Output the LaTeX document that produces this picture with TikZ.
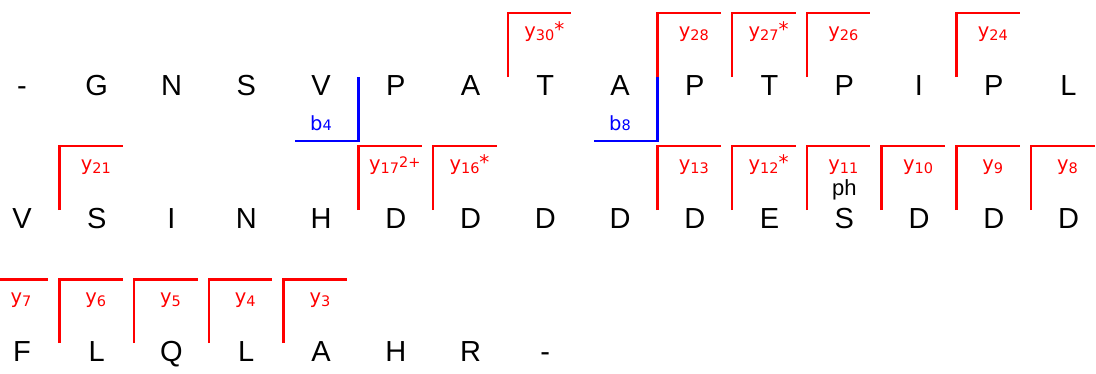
\documentclass[tikz,border=0pt]{standalone}
\usepackage{fontspec}
\setmainfont{Liberation Sans}
\newfontfamily\ionfont{DejaVu Sans}
\usetikzlibrary{calc}

\newcommand{\ionidx}[2]{\raisebox{-3.5pt}{\fontsize{14.5}{14.5}\selectfont #1}\raisebox{2.5pt}{\fontsize{14.5}{14.5}\selectfont #2}}
\newcommand{\ionstar}{\raisebox{-1.5pt}{\fontsize{20}{20}\selectfont *}}

\begin{document}
\begin{tikzpicture}[
    x=1pt, y=-1pt,
    residue/.style={anchor=base, inner sep=0pt, font=\fontsize{29}{29}\selectfont},
    ylab/.style={anchor=base, inner sep=0pt, text=red, font=\ionfont\fontsize{19.5}{19.5}\selectfont},
    blab/.style={anchor=base, inner sep=0pt, text=blue, font=\ionfont\fontsize{19.5}{19.5}\selectfont},
    ycut/.style={draw=red, line width=2.6pt},
    bcut/.style={draw=blue, line width=2.6pt}
]
\useasboundingbox (0,0) rectangle (1096,373);
\clip (0,0) rectangle (1096,373);

% Sequence rows
\foreach \res [count=\i from 0] in {-,G,N,S,V,P,A,T,A,P,T,P,I,P,L}
    \node[residue] (r1c\i) at (22+74.75*\i, 95.5) {\res};
\foreach \res [count=\i from 0] in {V,S,I,N,H,D,D,D,D,D,E,S,D,D,D}
    \node[residue] (r2c\i) at (22+74.75*\i, 228.6) {\res};
\foreach \res [count=\i from 0] in {F,L,Q,L,A,H,R,-}
    \node[residue] (r3c\i) at (22+74.75*\i, 361.7) {\res};

% y ions (red, above the sequence)
\foreach \r/\i/\n/\s in {1/7/30/\ionstar, 1/9/28/{}, 1/10/27/\ionstar, 1/11/26/{}, 1/13/24/{},
        2/1/21/{}, 2/5/17/2+, 2/6/16/\ionstar, 2/9/13/{}, 2/10/12/\ionstar, 2/11/11/{}, 2/12/10/{}, 2/13/9/{}, 2/14/8/{},
        3/0/7/{}, 3/1/6/{}, 3/2/5/{}, 3/3/4/{}, 3/4/3/{}} {
    \draw[ycut] ($(r\r c\i.base)+(-37.4,-18.5)$) |- ++(63.4,-64);
    \node[ylab] (y\n) at ($(r\r c\i.base)+(-1,-58.5)$) {y\ionidx{\n}{\s}};
}

% modification
\node[anchor=base, inner sep=0pt, font=\fontsize{22}{22}\selectfont] (ph) at ($(r2c11.base)+(0,-33.5)$) {ph};

% b ions (blue, below the sequence)
\foreach \i/\n in {4/4, 8/8} {
    \draw[bcut] ($(r1c\i.base)+(37.4,-18.5)$) |- ++(-63.4,64);
    \node[blab] (b\n) at ($(r1c\i.base)+(0,34.5)$) {b{\fontsize{14.5}{14.5}\selectfont\n}};
}

\end{tikzpicture}
\end{document}
